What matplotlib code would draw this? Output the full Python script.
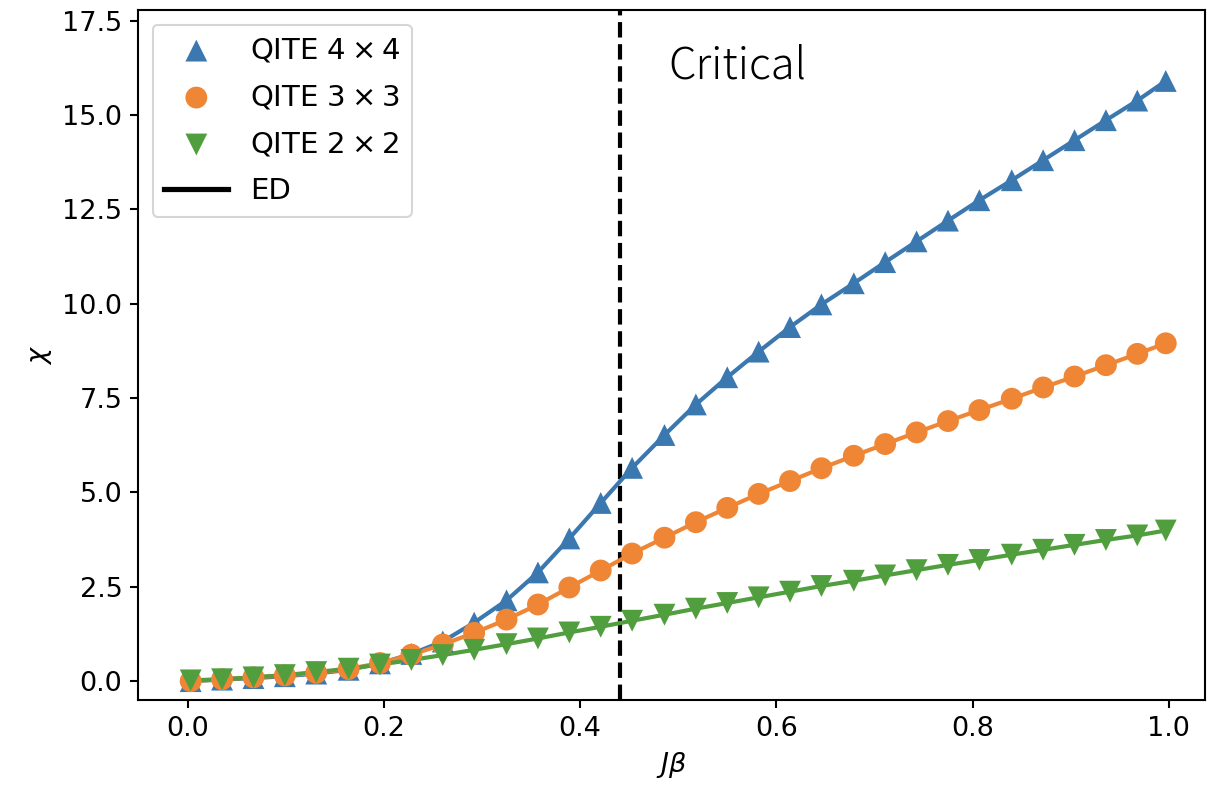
import matplotlib
matplotlib.use("Agg")
import matplotlib.pyplot as plt
from matplotlib.lines import Line2D

# susceptibility vs J*beta, QITE markers on top of ED curves
beta = [0.003, 0.035, 0.067, 0.099, 0.131, 0.164, 0.196, 0.228,
        0.260, 0.292, 0.325, 0.357, 0.389, 0.421, 0.453, 0.486,
        0.518, 0.550, 0.582, 0.614, 0.646, 0.679, 0.711, 0.743,
        0.775, 0.807, 0.840, 0.872, 0.904, 0.936, 0.968, 0.997]

chi_4x4 = [0.00, 0.04, 0.08, 0.13, 0.20, 0.30, 0.47, 0.72,
           1.05, 1.55, 2.14, 2.88, 3.78, 4.72, 5.65, 6.52,
           7.33, 8.05, 8.73, 9.38, 9.98, 10.54, 11.10, 11.65,
           12.20, 12.74, 13.27, 13.80, 14.33, 14.86, 15.38, 15.90]

chi_3x3 = [0.00, 0.05, 0.10, 0.15, 0.22, 0.32, 0.48, 0.70,
           0.97, 1.28, 1.63, 2.03, 2.48, 2.93, 3.38, 3.80,
           4.21, 4.59, 4.96, 5.30, 5.64, 5.97, 6.28, 6.59,
           6.89, 7.18, 7.48, 7.78, 8.07, 8.37, 8.67, 8.95]

chi_2x2 = [0.02, 0.05, 0.10, 0.16, 0.24, 0.33, 0.44, 0.56,
           0.69, 0.83, 0.98, 1.13, 1.29, 1.44, 1.60, 1.76,
           1.92, 2.07, 2.22, 2.37, 2.52, 2.66, 2.80, 2.94,
           3.08, 3.21, 3.35, 3.48, 3.61, 3.74, 3.86, 3.99]

BETA_C = 0.4407
BLUE, ORANGE, GREEN = "#3B78B0", "#EF8636", "#519E3E"

fig = plt.figure(figsize=(1214 / 150, 791 / 150), dpi=150)
ax = fig.add_axes([138 / 1214, 91 / 791, (1205 - 138) / 1214, (700 - 10) / 791])

series = [
    (chi_4x4, BLUE, "^", r"QITE $4\times4$"),
    (chi_3x3, ORANGE, "o", r"QITE $3\times3$"),
    (chi_2x2, GREEN, "v", r"QITE $2\times2$"),
]
handles = []
for chi, col, mk, lab in series:
    ax.plot(beta, chi, color=col, lw=2, zorder=2)
    h = ax.scatter(beta, chi, marker=mk, s=110, color=col, edgecolors="none", zorder=3, label=lab)
    handles.append(h)

ax.axvline(BETA_C, color="black", lw=2, ls="--", zorder=1)
ax.text(0.49, 16.3, "Critical", fontsize=21, va="center", ha="left",
        family=["Noto Sans CJK JP", "DejaVu Sans"], fontweight="light")

handles.append(Line2D([0], [0], color="black", lw=2.5, label="ED"))
ax.legend(handles=handles, loc="upper left", fontsize=14, labelspacing=0.65,
          scatterpoints=1, markerscale=1.0, handlelength=2.2, handletextpad=0.75)

ax.set_xlim(-0.0507, 1.037)
ax.set_ylim(-0.5, 17.78)
ax.set_yticks([0, 2.5, 5, 7.5, 10, 12.5, 15, 17.5])
ax.set_xlabel(r"$J\beta$", fontsize=13)
ax.set_ylabel(r"$\chi$", fontsize=13)
ax.tick_params(labelsize=13, width=1, length=4)
for s in ax.spines.values():
    s.set_linewidth(1)

fig.savefig("out.png", dpi=150)
